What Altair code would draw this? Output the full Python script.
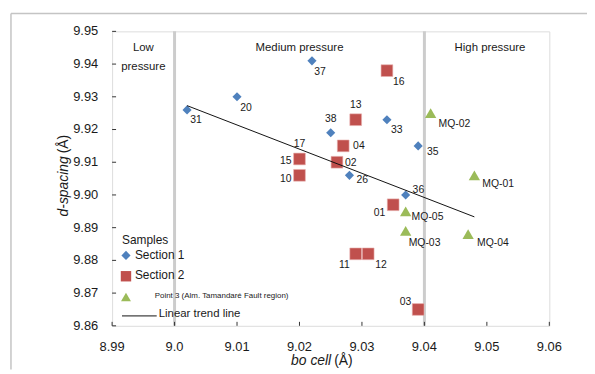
import altair as alt
import pandas as pd

# ---- data ----
s1_names = ["31", "20", "37", "38", "33", "35", "26", "36", "17"]
s1_x = [9.002, 9.010, 9.022, 9.025, 9.034, 9.039, 9.028, 9.037, 9.020]
s1_y = [9.926, 9.930, 9.941, 9.919, 9.923, 9.915, 9.906, 9.900, 9.911]

s2_names = ["16", "13", "04", "02", "15", "10", "01", "11", "12", "03"]
s2_x = [9.034, 9.029, 9.027, 9.026, 9.020, 9.020, 9.035, 9.029, 9.031, 9.039]
s2_y = [9.938, 9.923, 9.915, 9.910, 9.911, 9.906, 9.897, 9.882, 9.882, 9.865]

p3_names = ["MQ-02", "MQ-01", "MQ-05", "MQ-03", "MQ-04"]
p3_x = [9.041, 9.048, 9.037, 9.037, 9.047]
p3_y = [9.925, 9.906, 9.895, 9.889, 9.888]

trend_x = [9.002, 9.048]
trend_y = [9.9273, 9.8933]

x_ticks = [8.99, 9.00, 9.01, 9.02, 9.03, 9.04, 9.05, 9.06]
y_ticks = [9.86, 9.87, 9.88, 9.89, 9.90, 9.91, 9.92, 9.93, 9.94, 9.95]

boundaries = [9.00, 9.04]
region_names = ["Low\npressure", "Medium pressure", "High pressure"]
region_x = [8.995, 9.02, 9.0505]

legend_title = "Samples"
legend_labels = ["Section 1", "Section 2", "Point 3 (Alm. Tamandaré Fault region)", "Linear trend line"]

# ---- label placement (dx, dy, align) ----
placement = {
    "31": (9, 10, "center"), "20": (9, 11, "center"), "37": (8, 11, "center"),
    "16": (12, 11, "center"), "13": (0, -15, "center"), "38": (0, -14, "center"),
    "33": (10, 10, "center"), "04": (10, 0, "left"), "35": (9, 6, "left"),
    "26": (7, 5, "left"), "02": (8, 1, "left"), "36": (7, -5, "left"),
    "17": (0, -15, "center"), "15": (-8, 2, "right"), "10": (-8, 4, "right"),
    "01": (-8, 8, "right"), "11": (-6, 11, "right"), "12": (7, 11, "left"),
    "03": (-7, -8, "right"), "MQ-02": (8, 11, "left"), "MQ-01": (8, 9, "left"),
    "MQ-05": (6, 6, "left"), "MQ-03": (3, 12, "left"), "MQ-04": (9, 9, "left"),
}

W, H = 441, 297
FONT = "Liberation Sans"
BLUE, RED, GREEN = "#4F81BD", "#C0504D", "#9BBB59"
TXT = "#1a1a1a"

s1 = pd.DataFrame({"name": s1_names, "x": s1_x, "y": s1_y})
s2 = pd.DataFrame({"name": s2_names, "x": s2_x, "y": s2_y})
p3 = pd.DataFrame({"name": p3_names, "x": p3_x, "y": p3_y})
allpts = pd.concat([s1, s2, p3], ignore_index=True)
trend = pd.DataFrame({"x": trend_x, "y": trend_y})
bnd = pd.DataFrame({"x": boundaries})
reg = pd.DataFrame({"name": region_names, "x": region_x})
xt = pd.DataFrame({"v": x_ticks})
yt = pd.DataFrame({"v": y_ticks})

xscale = alt.Scale(domain=[8.99, 9.06], nice=False, zero=False)
yscale = alt.Scale(domain=[9.86, 9.95], nice=False, zero=False)


def XQ(f="x"):
    return alt.X(f"{f}:Q", scale=xscale, axis=None)


def YQ(f="y"):
    return alt.Y(f"{f}:Q", scale=yscale, axis=None)


one = alt.Data(values=[{"a": 1}])

layers = []
# outer frame of the figure
layers.append(alt.Chart(one).mark_rule(color="#c4c4c4", strokeWidth=1.5).encode(
    x=alt.value(-102), x2=alt.value(W + 38), y=alt.value(-18)))
layers.append(alt.Chart(one).mark_rule(color="#c4c4c4", strokeWidth=1.5).encode(
    x=alt.value(-102), y=alt.value(-18), y2=alt.value(H + 44)))

# pressure boundaries
layers.append(alt.Chart(bnd).mark_rule(color="#cccccc", strokeWidth=3).encode(
    x=XQ(), y=alt.value(0), y2=alt.value(H)))

# inward ticks
layers.append(alt.Chart(xt).mark_rule(color="#333", strokeWidth=1).encode(
    x=XQ("v"), y=alt.value(H - 4), y2=alt.value(H)))
layers.append(alt.Chart(yt).mark_rule(color="#333", strokeWidth=1).encode(
    y=YQ("v"), x=alt.value(0), x2=alt.value(4)))

# tick labels
layers.append(alt.Chart(xt).transform_calculate(
    lab="abs(datum.v - 9) < 1e-9 ? '9.0' : format(datum.v, '.2f')").mark_text(
    font=FONT, fontSize=13, color=TXT, align="center", baseline="middle").encode(
    x=XQ("v"), y=alt.value(H + 21), text="lab:N"))
layers.append(alt.Chart(yt).transform_calculate(lab="format(datum.v, '.2f')").mark_text(
    font=FONT, fontSize=13, color=TXT, align="right", baseline="middle").encode(
    y=YQ("v"), x=alt.value(-14), text="lab:N"))

# region labels
layers.append(alt.Chart(reg).mark_text(font=FONT, fontSize=11.5, color=TXT, lineBreak="\n",
                                       baseline="top", lineHeight=19).encode(
    x=XQ(), y=alt.value(11), text="name:N"))

# points
layers.append(alt.Chart(s1).mark_point(shape="diamond", filled=True, opacity=1, color=BLUE, size=85).encode(
    x=XQ(), y=YQ()))
layers.append(alt.Chart(s2).mark_point(shape="square", filled=True, opacity=1, color=RED, size=140,
                                       stroke="#e8b0ae", strokeWidth=0.6).encode(x=XQ(), y=YQ()))
layers.append(alt.Chart(p3).mark_point(shape="triangle-up", filled=True, opacity=1, color=GREEN, size=130).encode(
    x=XQ(), y=YQ()))

# trend line
layers.append(alt.Chart(trend).mark_line(color="#111", strokeWidth=1).encode(x=XQ(), y=YQ()))

# point labels
for nm, (dx, dy, al) in placement.items():
    layers.append(alt.Chart(allpts).transform_filter(alt.datum.name == nm).mark_text(
        font=FONT, fontSize=10.5, color=TXT, dx=dx, dy=dy, align=al, baseline="middle").encode(
        x=XQ(), y=YQ(), text="name:N"))


# manual legend
def legend_text(txt, x, y, size):
    return alt.Chart(one).mark_text(font=FONT, fontSize=size, color=TXT, align="left",
                                    baseline="middle", text=txt).encode(x=alt.value(x), y=alt.value(y))


layers.append(legend_text(legend_title, 10, 210, 12))
layers.append(alt.Chart(one).mark_point(shape="diamond", filled=True, opacity=1, color=BLUE, size=85).encode(
    x=alt.value(14), y=alt.value(226)))
layers.append(legend_text(legend_labels[0], 23, 226, 12))
layers.append(alt.Chart(one).mark_point(shape="square", filled=True, opacity=1, color=RED, size=110).encode(
    x=alt.value(14), y=alt.value(247)))
layers.append(legend_text(legend_labels[1], 23, 246, 12))
layers.append(alt.Chart(one).mark_point(shape="triangle-up", filled=True, opacity=1, color=GREEN, size=100).encode(
    x=alt.value(14), y=alt.value(268)))
layers.append(legend_text(legend_labels[2], 43, 267, 8))
layers.append(alt.Chart(one).mark_rule(color="#111", strokeWidth=1).encode(
    x=alt.value(10), x2=alt.value(45), y=alt.value(287)))
layers.append(legend_text(legend_labels[3], 47, 285, 11.5))

# axis titles (italic variable, upright unit)
layers.append(alt.Chart(one).mark_text(font=FONT, fontSize=14, fontStyle="italic", color=TXT,
                                       align="right", baseline="middle", text="bo cell").encode(
    x=alt.value(221), y=alt.value(333)))
layers.append(alt.Chart(one).mark_text(font=FONT, fontSize=14, color=TXT,
                                       align="left", baseline="middle", text="(Å)").encode(
    x=alt.value(224), y=alt.value(333)))
layers.append(alt.Chart(one).mark_text(font=FONT, fontSize=14, fontStyle="italic", color=TXT, angle=270,
                                       align="right", baseline="middle", text="d-spacing").encode(
    x=alt.value(-48), y=alt.value(126)))
layers.append(alt.Chart(one).mark_text(font=FONT, fontSize=14, color=TXT, angle=270,
                                       align="left", baseline="middle", text="(Å)").encode(
    x=alt.value(-48), y=alt.value(123)))

chart = alt.layer(*layers).properties(
    width=W, height=H,
    autosize=alt.AutoSizeParams(type="none"),
    padding={"left": 105, "top": 22, "right": 38, "bottom": 44},
).configure_view(stroke="#333", strokeWidth=1).configure(font=FONT, background="white")

chart.save("out.html", embed_options={"renderer": "svg", "actions": False})
